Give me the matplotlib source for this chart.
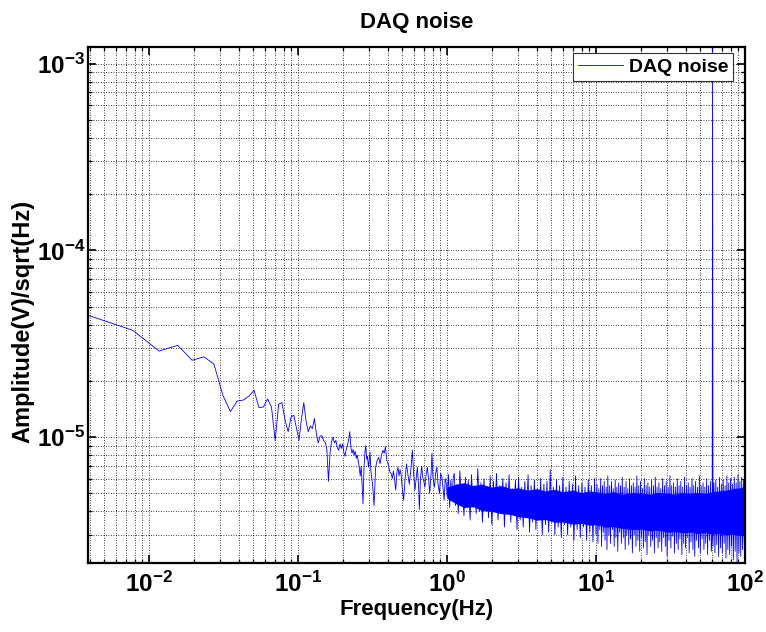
import matplotlib
matplotlib.use("Agg")
import numpy as np
import matplotlib.pyplot as plt
from matplotlib.ticker import NullFormatter, LogLocator

plt.rcParams['font.family'] = ['Liberation Sans', 'DejaVu Sans']
plt.rcParams['font.weight'] = 'bold'
plt.rcParams['mathtext.fontset'] = 'custom'
plt.rcParams['mathtext.rm'] = 'Liberation Sans:bold'
plt.rcParams['mathtext.it'] = 'Liberation Sans:bold:italic'
plt.rcParams['mathtext.bf'] = 'Liberation Sans:bold'

# ---------------- spectrum data ----------------
# low-frequency part of the amplitude spectrum (Hz, V/sqrt(Hz))
freq_low = [
    0.0039, 0.0078, 0.0117, 0.0156, 0.0195, 0.0234, 0.0273, 0.0313, 0.0352, 0.0391,
    0.0430, 0.0469, 0.0508, 0.0547, 0.0586, 0.0625, 0.0664, 0.0703, 0.0742, 0.0781,
    0.0820, 0.0859, 0.0898, 0.0938, 0.0977, 0.1016, 0.1055, 0.1094, 0.1133, 0.1172,
    0.1211, 0.1250, 0.1289, 0.1328, 0.1367, 0.1406, 0.1445, 0.1484, 0.1523, 0.1563,
    0.1602, 0.1641, 0.1680, 0.1719, 0.1758, 0.1797, 0.1836, 0.1875, 0.1914, 0.1953,
    0.1992, 0.2031, 0.2070, 0.2109, 0.2148, 0.2188, 0.2227, 0.2266, 0.2305, 0.2344,
    0.2383, 0.2422, 0.2461, 0.2500, 0.2539, 0.2578, 0.2617, 0.2656, 0.2734, 0.2773,
    0.2813, 0.2852, 0.2891, 0.2930, 0.2969, 0.3008, 0.3047, 0.3086, 0.3164, 0.3242,
    0.3320, 0.3398, 0.3477, 0.3555, 0.3633, 0.3711, 0.3789, 0.3867, 0.3945, 0.4023,
    0.4141, 0.4219, 0.4297, 0.4375, 0.4453, 0.4531, 0.4609, 0.4688, 0.4766, 0.4844,
    0.4922, 0.5000, 0.5117, 0.5234, 0.5352, 0.5469, 0.5586, 0.5703, 0.5859, 0.5977,
    0.6094, 0.6211, 0.6328, 0.6445, 0.6523, 0.6641, 0.6758, 0.6875, 0.6992, 0.7109,
    0.7227, 0.7383, 0.7539, 0.7656, 0.7813, 0.7930, 0.8047, 0.8242, 0.8398, 0.8555,
    0.8711, 0.8906, 0.9063, 0.9258, 0.9414, 0.9570, 0.9727, 0.9883, 1.0039, 1.0234,
    1.0430, 1.0625, 1.0820, 1.1016,
]
amp_low = [
    4.49e-5, 3.73e-5, 2.89e-5, 3.10e-5, 2.58e-5, 2.69e-5, 2.46e-5, 1.68e-5, 1.37e-5, 1.56e-5,
    1.58e-5, 1.66e-5, 1.78e-5, 1.44e-5, 1.45e-5, 1.60e-5, 1.45e-5, 9.6e-6, 1.50e-5, 1.53e-5,
    1.23e-5, 1.07e-5, 1.28e-5, 1.31e-5, 1.12e-5, 9.6e-6, 1.25e-5, 1.53e-5, 1.22e-5, 1.07e-5,
    1.15e-5, 1.11e-5, 1.26e-5, 1.05e-5, 9.3e-6, 1.01e-5, 1.02e-5, 9.6e-6, 9.4e-6, 8.6e-6,
    5.8e-6, 8.2e-6, 9.5e-6, 1.0e-5, 9.3e-6, 9.6e-6, 8.8e-6, 8.5e-6, 9.2e-6, 8.7e-6,
    9.2e-6, 8.3e-6, 7.9e-6, 8.6e-6, 9.0e-6, 9.7e-6, 1.07e-5, 8.8e-6, 8.2e-6, 8.6e-6,
    8.0e-6, 8.4e-6, 7.7e-6, 8.0e-6, 7.4e-6, 6.9e-6, 6.2e-6, 7.0e-6, 4.4e-6, 6.8e-6,
    8.3e-6, 9.0e-6, 7.6e-6, 7.9e-6, 6.9e-6, 7.6e-6, 8.3e-6, 6.6e-6, 5.6e-6, 4.3e-6,
    6.9e-6, 7.5e-6, 7.8e-6, 7.2e-6, 8.0e-6, 8.5e-6, 8.2e-6, 8.9e-6, 7.5e-6, 7.2e-6,
    6.5e-6, 6.4e-6, 6.0e-6, 6.6e-6, 5.9e-6, 5.2e-6, 6.5e-6, 6.9e-6, 6.2e-6, 6.7e-6,
    6.3e-6, 5.4e-6, 4.6e-6, 6.0e-6, 7.2e-6, 6.3e-6, 5.6e-6, 6.5e-6, 8.5e-6, 6.3e-6,
    5.2e-6, 6.0e-6, 6.9e-6, 5.5e-6, 4.1e-6, 6.0e-6, 7.0e-6, 6.1e-6, 5.8e-6, 5.4e-6,
    6.2e-6, 6.9e-6, 5.9e-6, 5.0e-6, 6.3e-6, 8.2e-6, 6.1e-6, 5.4e-6, 6.4e-6, 6.9e-6,
    5.6e-6, 5.0e-6, 6.4e-6, 6.1e-6, 5.3e-6, 4.6e-6, 6.0e-6, 5.7e-6, 4.8e-6, 6.3e-6,
    4.2e-6, 5.9e-6, 4.6e-6, 6.1e-6,
]

# 1-10 Hz: successive peaks and troughs of the noise floor (1e-6 V/sqrt(Hz))
freq_mid = [
    1.12, 1.14, 1.17, 1.19, 1.22, 1.25, 1.27, 1.30, 1.33, 1.36,
    1.39, 1.43, 1.46, 1.50, 1.53, 1.57, 1.61, 1.65, 1.69, 1.73,
    1.77, 1.81, 1.86, 1.90, 1.95, 2.00, 2.05, 2.10, 2.15, 2.20,
    2.26, 2.31, 2.37, 2.43, 2.49, 2.55, 2.61, 2.68, 2.74, 2.81,
    2.88, 2.95, 3.02, 3.10, 3.17, 3.25, 3.33, 3.41, 3.50, 3.58,
    3.67, 3.76, 3.86, 3.95, 4.05, 4.15, 4.25, 4.36, 4.47, 4.58,
    4.69, 4.81, 4.93, 5.05, 5.17, 5.30, 5.43, 5.57, 5.70, 5.85,
    5.99, 6.14, 6.29, 6.45, 6.61, 6.77, 6.94, 7.11, 7.29, 7.47,
    7.65, 7.84, 8.04, 8.24, 8.44, 8.65, 8.87, 9.09, 9.31, 9.54,
    9.78,
]
amp_mid_u = [
    6.4, 4.3, 5.6, 3.9, 6.6, 4.5, 5.2, 3.8, 6.1, 4.4,
    5.9, 3.6, 6.3, 4.2, 5.5, 3.9, 6.8, 4.0, 5.7, 3.5,
    6.0, 4.3, 5.4, 3.7, 6.2, 3.4, 5.8, 4.1, 6.4, 3.6,
    5.5, 3.9, 6.0, 3.3, 5.7, 4.0, 6.3, 3.5, 5.3, 3.8,
    5.9, 3.2, 6.1, 3.6, 5.4, 3.3, 5.8, 3.7, 6.3, 3.1,
    5.5, 3.5, 5.9, 3.2, 5.3, 3.6, 6.0, 3.0, 5.6, 3.4,
    5.8, 3.1, 6.7, 3.5, 5.4, 3.0, 5.9, 3.3, 5.5, 2.9,
    6.1, 3.4, 5.4, 3.0, 5.8, 3.3, 5.6, 2.8, 6.2, 3.2,
    5.5, 2.9, 5.7, 3.3, 5.4, 2.8, 5.9, 3.1, 5.5, 2.75,
    6.0,
]

# 10-100 Hz: peaks and troughs, with the 60 Hz mains line (1e-6 V/sqrt(Hz))
freq_high = [
    10.0, 10.15, 10.3, 10.45, 10.6, 10.75, 10.9, 11.05, 11.2, 11.35,
    11.5, 11.7, 11.85, 12.0, 12.2, 12.35, 12.5, 12.7, 12.9, 13.05,
    13.25, 13.45, 13.6, 13.8, 14.0, 14.2, 14.4, 14.6, 14.8, 15.0,
    15.25, 15.45, 15.7, 15.9, 16.1, 16.35, 16.6, 16.8, 17.05, 17.3,
    17.55, 17.8, 18.05, 18.3, 18.55, 18.8, 19.1, 19.35, 19.65, 19.9,
    20.2, 20.5, 20.8, 21.1, 21.4, 21.7, 22.0, 22.3, 22.6, 22.95,
    23.3, 23.6, 23.95, 24.3, 24.65, 25.0, 25.35, 25.7, 26.1, 26.45,
    26.8, 27.2, 27.6, 28.0, 28.4, 28.8, 29.2, 29.6, 30.0, 30.5,
    30.9, 31.35, 31.8, 32.2, 32.7, 33.2, 33.6, 34.1, 34.6, 35.1,
    35.6, 36.1, 36.6, 37.1, 37.7, 38.2, 38.8, 39.3, 39.9, 40.5,
    41.0, 41.6, 42.2, 42.8, 43.4, 44.1, 44.7, 45.3, 46.0, 46.6,
    47.3, 48.0, 48.7, 49.4, 50.1, 50.8, 51.5, 52.3, 53.0, 53.8,
    54.5, 55.3, 56.1, 56.9, 57.7, 58.6, 59.4, 60.2, 60.6, 61.0,
    61.9, 62.8, 63.7, 64.6, 65.5, 66.5, 67.4, 68.4, 69.4, 70.4,
    71.4, 72.4, 73.5, 74.5, 75.6, 76.7, 77.8, 78.9, 80.0, 81.2,
    82.3, 83.5, 84.7, 85.9, 87.2, 88.4, 89.7, 91.0, 92.3, 93.6,
    95.0, 96.3, 97.7, 99.1, 100.0,
]
amp_high_u = [
    3.0, 5.6, 2.7, 5.3, 3.2, 6.0, 2.6, 5.5, 3.1, 5.8,
    2.8, 5.4, 2.5, 6.2, 3.0, 5.5, 2.7, 5.8, 3.2, 5.3,
    2.6, 5.9, 2.9, 5.4, 2.45, 5.7, 3.1, 5.5, 2.7, 6.1,
    2.9, 5.4, 2.5, 5.8, 3.0, 5.3, 2.65, 6.0, 2.85, 5.5,
    2.4, 5.7, 3.0, 5.4, 2.6, 6.2, 2.8, 5.5, 2.45, 5.8,
    2.9, 5.3, 2.55, 6.0, 2.75, 5.5, 2.35, 5.7, 3.0, 5.4,
    2.6, 5.9, 2.8, 5.5, 2.4, 6.1, 2.9, 5.4, 2.55, 5.7,
    2.75, 5.3, 2.45, 6.0, 2.9, 5.5, 2.6, 5.8, 2.3, 5.4,
    2.8, 6.2, 2.55, 5.5, 2.95, 5.7, 2.4, 5.4, 2.7, 6.0,
    2.5, 5.5, 2.85, 5.8, 2.35, 5.4, 2.7, 6.1, 2.55, 5.5,
    2.9, 5.7, 2.4, 5.4, 2.75, 6.0, 2.5, 5.5, 2.3, 5.8,
    2.8, 5.4, 2.55, 6.2, 2.4, 5.5, 2.85, 5.7, 2.5, 5.4,
    2.7, 6.0, 2.35, 5.5, 2.8, 5.8, 2.45, 3.0, 1227.0, 2.6,
    5.7, 2.4, 5.9, 2.65, 5.4, 2.3, 6.1, 2.55, 5.6, 2.4,
    5.9, 2.7, 5.5, 2.25, 6.2, 2.5, 5.7, 2.35, 6.0, 2.6,
    5.6, 2.2, 6.1, 2.45, 5.7, 2.12, 6.3, 2.4, 5.8, 2.3,
    6.1, 2.5, 5.9, 2.35, 5.9,
]

# dense core of the noise floor above 1 Hz (lower / upper edge, 1e-6 V/sqrt(Hz))
core_freq = [1.0, 1.15, 1.3, 1.5, 1.7, 2.0, 2.3, 2.7, 3.0, 3.5,
             4.0, 4.6, 5.3, 6.0, 7.0, 8.0, 9.0, 10.0, 11.5, 13.0,
             15.0, 17.5, 20.0, 23.0, 26.0, 30.0, 34.0, 38.0, 43.0, 48.0,
             54.0, 60.0, 67.0, 75.0, 83.0, 92.0, 100.0]
core_high_u = [5.4, 5.6, 5.7, 5.5, 5.6, 5.4, 5.5, 5.3, 5.35, 5.2,
               5.3, 5.15, 5.25, 5.1, 5.2, 5.05, 5.15, 5.1, 5.0, 5.1,
               4.95, 5.05, 5.0, 4.95, 5.05, 5.0, 4.95, 5.05, 5.0, 5.05,
               5.0, 5.1, 5.15, 5.2, 5.3, 5.35, 5.45]
core_low_u = [4.7, 4.4, 4.2, 4.25, 4.05, 4.0, 3.9, 3.85, 3.75, 3.7,
              3.6, 3.62, 3.5, 3.52, 3.42, 3.45, 3.38, 3.4, 3.3, 3.32,
              3.25, 3.2, 3.22, 3.15, 3.18, 3.1, 3.12, 3.08, 3.1, 3.05,
              3.08, 3.02, 3.05, 3.0, 3.02, 2.98, 3.0]

x_limits = (0.0039, 100)
y_limits = (2.12e-6, 1.227e-3)

# ---------------- figure ----------------
blue = '#0000ff'
fig = plt.figure(figsize=(7.66, 6.32), dpi=100)
ax = fig.add_axes([0.1149, 0.1092, 0.8577, 0.8165])
ax.set_xscale('log')
ax.set_yscale('log')
ax.set_axisbelow(True)

freq = np.concatenate([freq_low, freq_mid, freq_high])
amp = np.concatenate([amp_low, np.array(amp_mid_u) * 1e-6, np.array(amp_high_u) * 1e-6])

ax.fill_between(core_freq, np.array(core_low_u) * 1e-6, np.array(core_high_u) * 1e-6,
                color=blue, linewidth=0)
ax.plot(freq, amp, color=blue, linewidth=0.6, label='DAQ noise')

ax.set_xlim(*x_limits)
ax.set_ylim(*y_limits)

ax.xaxis.set_major_locator(LogLocator(base=10, numticks=20))
ax.xaxis.set_minor_locator(LogLocator(base=10, subs=np.arange(2, 10), numticks=20))
ax.yaxis.set_major_locator(LogLocator(base=10, numticks=20))
ax.yaxis.set_minor_locator(LogLocator(base=10, subs=np.arange(2, 10), numticks=20))
ax.xaxis.set_minor_formatter(NullFormatter())
ax.yaxis.set_minor_formatter(NullFormatter())

ax.grid(True, which='both', color='black', linestyle=(0, (1, 2)), linewidth=0.6)

for s in ax.spines.values():
    s.set_linewidth(1.6)
    s.set_color('black')

ax.tick_params(which='both', direction='in', top=True, right=True, colors='black')
ax.tick_params(which='major', length=5.5, width=1.2, labelsize=17.5)
ax.tick_params(axis='x', which='major', pad=6)
ax.tick_params(axis='y', which='major', pad=2)
ax.tick_params(which='minor', length=2.8, width=0.9)

ax.set_title('DAQ noise', fontsize=16, fontweight='bold', pad=14)
ax.set_xlabel('Frequency(Hz)', fontsize=16, fontweight='bold')
ax.set_ylabel('Amplitude(V)/sqrt(Hz)', fontsize=17, fontweight='bold')
ax.xaxis.set_label_coords(0.5, -0.070)
ax.yaxis.set_label_coords(-0.081, 0.469)

leg = ax.legend(loc='upper right', bbox_to_anchor=(0.982, 0.9878), borderaxespad=0,
                fancybox=False, framealpha=1, edgecolor='#333333',
                prop={'size': 14, 'weight': 'bold'}, handlelength=2.3,
                handletextpad=0.3, borderpad=0.25)
leg.get_frame().set_linewidth(0.8)

fig.savefig('out.png', dpi=100)
